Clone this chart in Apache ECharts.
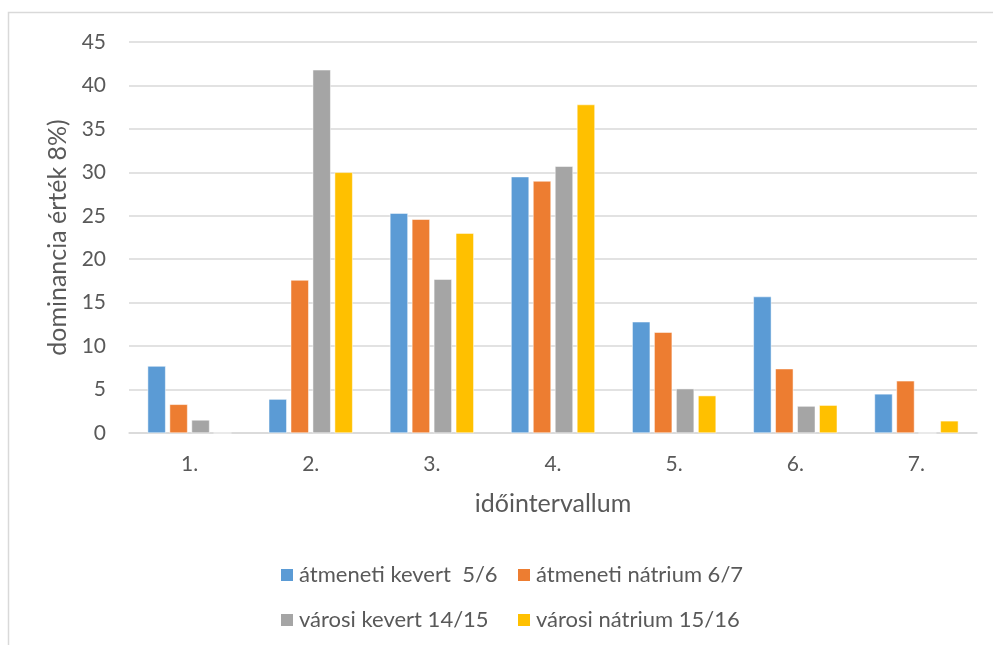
<!DOCTYPE html>
<html lang="hu">
<head>
    <meta charset="UTF-8">
    <title>dominancia érték</title>
    <style>
        html, body { margin: 0; padding: 0; background: #fff; }
    </style>
</head>
<body>
<div class="main" style="width: 993px;height:645px;"></div>
<script src="https://cdn.jsdelivr.net/npm/echarts@6/dist/echarts.min.js"></script>
<script>
    // adatok
    var categories = ['1.', '2.', '3.', '4.', '5.', '6.', '7.'];
    var seriesNames = ['átmeneti kevert  5/6', 'átmeneti nátrium 6/7', 'városi kevert 14/15', 'városi nátrium 15/16'];
    var atmenetiKevert = [7.7, 3.9, 25.3, 29.5, 12.8, 15.7, 4.5];
    var atmenetiNatrium = [3.3, 17.6, 24.6, 29.0, 11.6, 7.4, 6.0];
    var varosiKevert = [1.5, 41.8, 17.7, 30.7, 5.1, 3.1, 0];
    var varosiNatrium = [0, 30.0, 23.0, 37.8, 4.3, 3.2, 1.4];
    var yTicks = [0, 5, 10, 15, 20, 25, 30, 35, 40, 45];
    var colors = ['#5b9bd5', '#ed7d31', '#a5a5a5', '#ffc000'];

    var main = document.getElementsByClassName('main')[0];
    var myChart = echarts.init(main);

    var font = 'Lato, "Open Sans", sans-serif';
    var textGray = '#595959';

    function makeBar(name, data, color) {
        return {
            name: name,
            type: 'bar',
            data: data,
            barWidth: 18,
            barGap: '22%',
            itemStyle: { color: color, borderColor: '#fff', borderWidth: 0.5 },
            emphasis: { disabled: true }
        };
    }

    // két oszlopos jelmagyarázat
    function makeLegend(left, names) {
        return {
            orient: 'vertical',
            left: left,
            top: 564,
            padding: 0,
            itemWidth: 14,
            itemHeight: 14,
            itemGap: 23,
            icon: 'rect',
            data: names,
            textStyle: { color: textGray, fontSize: 22, lineHeight: 22, fontFamily: font }
        };
    }

    var option = {
        animation: false,
        textStyle: { fontFamily: font },
        color: colors,
        graphic: [{
            type: 'rect',
            shape: { x: 8.5, y: 12.5, width: 1000, height: 700 },
            style: { fill: 'none', stroke: '#d9d9d9', lineWidth: 1.5 },
            silent: true
        }],
        grid: { left: 129, right: 16, top: 42, bottom: 212 },
        legend: [
            makeLegend(279, [seriesNames[0], seriesNames[2]]),
            makeLegend(516, [seriesNames[1], seriesNames[3]])
        ],
        xAxis: {
            type: 'category',
            data: categories,
            name: 'időintervallum',
            nameLocation: 'middle',
            nameGap: 58,
            nameTextStyle: { color: textGray, fontSize: 25, fontFamily: font },
            axisLine: { lineStyle: { color: '#d9d9d9', width: 1.5 } },
            axisTick: { show: false },
            axisLabel: { color: textGray, fontSize: 21, margin: 21 }
        },
        yAxis: {
            type: 'value',
            min: yTicks[0],
            max: yTicks[yTicks.length - 1],
            interval: 5,
            name: 'dominancia érték 8%)',
            nameLocation: 'middle',
            nameGap: 58,
            nameTextStyle: { color: textGray, fontSize: 25, fontFamily: font },
            axisLine: { show: false },
            axisTick: { show: false },
            axisLabel: { color: textGray, fontSize: 21, margin: 23 },
            splitLine: { lineStyle: { color: '#d9d9d9', width: 1.5 } }
        },
        series: [
            makeBar(seriesNames[0], atmenetiKevert, colors[0]),
            makeBar(seriesNames[1], atmenetiNatrium, colors[1]),
            makeBar(seriesNames[2], varosiKevert, colors[2]),
            makeBar(seriesNames[3], varosiNatrium, colors[3])
        ]
    };

    myChart.setOption(option);
</script>
</body>
</html>
